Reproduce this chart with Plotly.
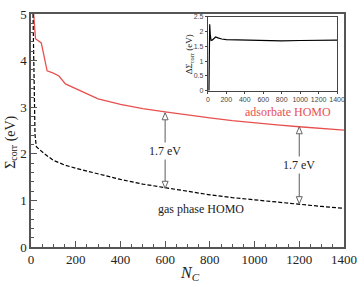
import plotly.graph_objects as go

# ---- data ----
N_ads = [12, 20, 46, 72, 100, 125, 154, 200, 300, 400, 500, 600, 700, 800, 900, 1000, 1100, 1200, 1300, 1400]
S_ads = [5.0, 4.47, 4.38, 3.78, 3.73, 3.67, 3.5, 3.4, 3.18, 3.06, 2.97, 2.9, 2.83, 2.77, 2.71, 2.66, 2.62, 2.58, 2.54, 2.51]

N_gas = [9, 13, 18, 24, 40, 60, 100, 150, 200, 300, 400, 500, 600, 700, 800, 900, 1000, 1100, 1200, 1300, 1400]
S_gas = [5.0, 3.6, 2.4, 2.15, 2.08, 2.0, 1.86, 1.76, 1.69, 1.57, 1.45, 1.35, 1.27, 1.19, 1.12, 1.06, 1.01, 0.96, 0.92, 0.87, 0.83]

N_diff = [12, 17, 20, 26, 35, 50, 84, 110, 150, 200, 300, 400, 600, 800, 1000, 1200, 1400]
D_diff = [0, 2.0, 2.25, 1.9, 1.7, 1.72, 1.82, 1.79, 1.75, 1.73, 1.72, 1.72, 1.71, 1.69, 1.7, 1.71, 1.71]

arrow_x = [600, 1200]
arrow_low = [1.26, 0.93]
arrow_high = [2.88, 2.58]
arrow_label_y = [2.05, 1.75]
arrow_label = ["1.7 eV", "1.7 eV"]

main_xticks = [0, 200, 400, 600, 800, 1000, 1200, 1400]
main_yticks = [0, 1, 2, 3, 4, 5]
inset_yticks = [0, 0.5, 1, 1.5, 2, 2.5]

RED = "#e8504f"
SERIF = "Liberation Serif"
SANS = "Liberation Sans"
AX = "#555555"
TXT = "#222222"

fig = go.Figure()
fig.add_trace(go.Scatter(x=N_ads, y=S_ads, mode="lines", line=dict(color=RED, width=1.3),
                         showlegend=False, xaxis="x", yaxis="y"))
fig.add_trace(go.Scatter(x=N_gas, y=S_gas, mode="lines", line=dict(color="black", width=1.2, dash="4px,2px"),
                         showlegend=False, xaxis="x", yaxis="y"))
fig.add_trace(go.Scatter(x=N_diff, y=D_diff, mode="lines", line=dict(color="black", width=1.2),
                         showlegend=False, xaxis="x2", yaxis="y2"))

shapes = []
annotations = []
for xa, lo, hi, ly, lab in zip(arrow_x, arrow_low, arrow_high, arrow_label_y, arrow_label):
    shapes.append(dict(type="line", xref="x", yref="y", x0=xa, x1=xa, y0=lo, y1=hi,
                       line=dict(color="#777777", width=1.2), layer="above"))
    shapes.append(dict(type="path", xref="x", yref="y", xsizemode="pixel", ysizemode="pixel",
                       xanchor=xa, yanchor=hi, path="M0,0 L-3,-7 L3,-7 Z",
                       fillcolor="white", line=dict(color="#666666", width=1)))
    shapes.append(dict(type="path", xref="x", yref="y", xsizemode="pixel", ysizemode="pixel",
                       xanchor=xa, yanchor=lo, path="M0,0 L-3,7 L3,7 Z",
                       fillcolor="white", line=dict(color="#666666", width=1)))
    annotations.append(dict(x=xa, y=ly, xref="x", yref="y", text=lab, showarrow=False,
                            bgcolor="white", font=dict(family=SERIF, size=12, color=TXT),
                            borderpad=1))

annotations.append(dict(x=1150, y=2.9, xref="x", yref="y", text="adsorbate HOMO", showarrow=False,
                        font=dict(family=SERIF, size=12, color=RED)))
annotations.append(dict(x=760, y=0.81, xref="x", yref="y", text="gas phase HOMO", showarrow=False,
                        font=dict(family=SERIF, size=12, color=TXT)))
annotations.append(dict(x=-0.065, y=2.25, xref="paper", yref="y", text="Σ<sub>corr</sub> (eV)",
                        textangle=-90, showarrow=False, xanchor="center",
                        font=dict(family=SERIF, size=14, color=TXT)))
annotations.append(dict(x=712, y=-0.115, xref="x", yref="paper", text="<i>N</i><sub><i>C</i></sub>",
                        showarrow=False, yanchor="middle",
                        font=dict(family=SERIF, size=16, color=TXT)))
annotations.append(dict(x=-0.2, y=1.25, xref="x2 domain", yref="y2", text="ΔΣ<sub>corr</sub> (eV)",
                        textangle=-90, showarrow=False,
                        font=dict(family=SERIF, size=9, color=TXT)))

fig.update_layout(
    width=364, height=287,
    margin=dict(l=31, r=9, t=7, b=40),
    paper_bgcolor="white", plot_bgcolor="white",
    shapes=shapes, annotations=annotations,
    xaxis=dict(domain=[0, 1], range=[0, 1400], tickvals=main_xticks, ticks="inside", ticklen=6,
               tickcolor=AX, tickwidth=1.2, showline=True, linecolor=AX, linewidth=1.5, mirror=True,
               showgrid=False, zeroline=False,
               minor=dict(dtick=50, ticks="inside", ticklen=3, tickcolor=AX, tickwidth=1),
               tickfont=dict(family=SERIF, size=13, color=TXT)),
    yaxis=dict(domain=[0, 1], range=[0, 5], tickvals=main_yticks, ticks="inside", ticklen=6,
               tickcolor=AX, tickwidth=1.2, showline=True, linecolor=AX, linewidth=1.5, mirror=True,
               showgrid=False, zeroline=False,
               minor=dict(dtick=0.2, ticks="inside", ticklen=3, tickcolor=AX, tickwidth=1),
               tickfont=dict(family=SERIF, size=13, color=TXT)),
    xaxis2=dict(domain=[0.565, 0.978], anchor="y2", range=[0, 1400], tickvals=main_xticks,
                ticks="outside", ticklen=2, tickcolor="#444", showline=True, linecolor="#444",
                linewidth=1, mirror=True, showgrid=False, zeroline=False,
                tickfont=dict(family=SANS, size=7, color="#444444")),
    yaxis2=dict(domain=[0.671, 0.9875], anchor="x2", range=[0, 2.5], tickvals=inset_yticks,
                ticks="outside", ticklen=2, tickcolor="#444", showline=True, linecolor="#444",
                linewidth=1, mirror=True, showgrid=False, zeroline=False,
                tickfont=dict(family=SANS, size=7, color="#444444")),
)

fig.write_html("out.html")
